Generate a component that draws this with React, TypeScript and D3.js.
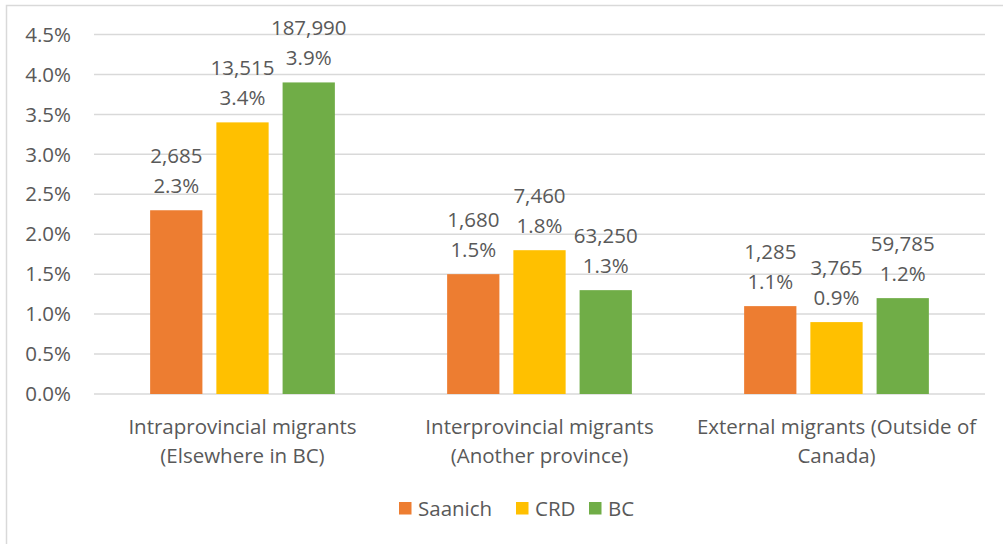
import React from "react";
import * as d3 from "d3";

const categories = [
  ["Intraprovincial migrants", "(Elsewhere in BC)"],
  ["Interprovincial migrants", "(Another province)"],
  ["External migrants (Outside of", "Canada)"],
];
const seriesNames = ["Saanich", "CRD", "BC"];
const seriesColors = ["#ED7D31", "#FFC000", "#70AD47"];
const percentValues = [
  [2.3, 1.5, 1.1],
  [3.4, 1.8, 0.9],
  [3.9, 1.3, 1.2],
];
const countValues = [
  ["2,685", "1,680", "1,285"],
  ["13,515", "7,460", "3,765"],
  ["187,990", "63,250", "59,785"],
];
const yTicks = [0, 0.5, 1, 1.5, 2, 2.5, 3, 3.5, 4, 4.5];

const W = 1003;
const H = 544;
const FONT = "'Open Sans', Lato, sans-serif";
const TXT = "#595959";
const FS = 20.5;

export default function App() {
  const left = 94, right = 985, top = 34.5, bottom = 394;
  const y = d3.scaleLinear().domain([0, 4.5]).range([bottom, top]);
  const x0 = d3.scaleBand<number>().domain([0, 1, 2]).range([left, right]).paddingInner(0).paddingOuter(0);
  const bw = x0.bandwidth();
  const barW = bw * 0.176;
  const gap = bw * 0.047;
  const groupW = 3 * barW + 2 * gap;
  const barX = (c: number, s: number) => (x0(c) as number) + (bw - groupW) / 2 + s * (barW + gap);

  const legendItems = [
    { x: 399, name: seriesNames[0] },
    { x: 516, name: seriesNames[1] },
    { x: 589, name: seriesNames[2] },
  ];

  return (
    <svg width={W} height={H} style={{ position: "absolute", left: 0, top: 0, background: "#fff" }} fontFamily={FONT}>
      <rect x={6.5} y={5.5} width={W + 10} height={H} fill="#fff" stroke="#D9D9D9" strokeWidth={1.5} />
      {yTicks.map((t) => (
        <g key={t}>
          <line x1={left} x2={right} y1={y(t)} y2={y(t)} stroke="#D9D9D9" strokeWidth={1.5} />
          <text x={71} y={y(t)} dy="0.35em" textAnchor="end" fontSize={FS} fill={TXT}>
            {t.toFixed(1) + "%"}
          </text>
        </g>
      ))}
      {percentValues.map((vals, s) =>
        vals.map((v, c) => {
          const bx = barX(c, s);
          const cx = bx + barW / 2;
          return (
            <g key={`${s}-${c}`}>
              <rect x={bx} y={y(v)} width={barW} height={bottom - y(v)} fill={seriesColors[s]} />
              <text x={cx} y={y(v) - 24.5} textAnchor="middle" fontSize={FS} fill={TXT} dy="0.35em">
                {v.toFixed(1) + "%"}
              </text>
              <text x={cx} y={y(v) - 54.5} textAnchor="middle" fontSize={FS} fill={TXT} dy="0.35em">
                {countValues[s][c]}
              </text>
            </g>
          );
        })
      )}
      {categories.map((lines, c) => (
        <text key={c} x={(x0(c) as number) + bw / 2} textAnchor="middle" fontSize={FS} fill={TXT}>
          {lines.map((l, i) => (
            <tspan key={i} x={(x0(c) as number) + bw / 2} y={427 + i * 29} dy="0.35em">
              {l}
            </tspan>
          ))}
        </text>
      ))}
      {legendItems.map((it, i) => (
        <g key={i}>
          <rect x={it.x} y={502} width={12.5} height={12.5} fill={seriesColors[i]} />
          <text x={it.x + 19} y={508.5} dy="0.35em" fontSize={FS} fill={TXT}>
            {it.name}
          </text>
        </g>
      ))}
    </svg>
  );
}
